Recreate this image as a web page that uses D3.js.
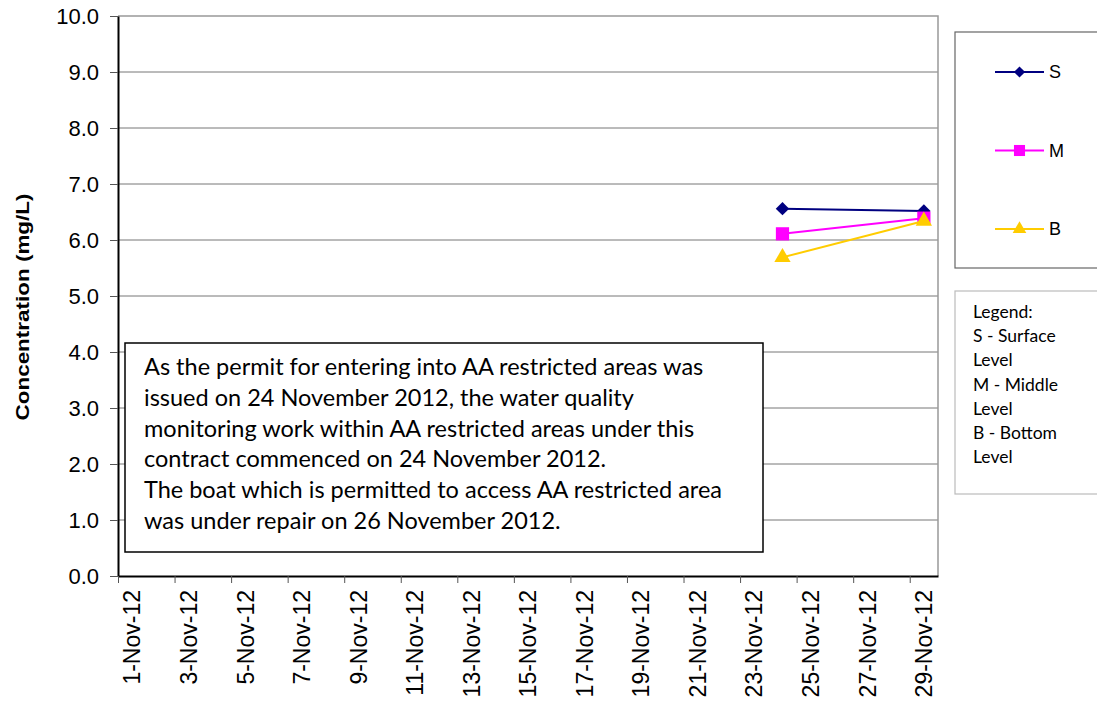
<!DOCTYPE html>
<html>
<head>
<meta charset="utf-8">
<script src="https://cdn.jsdelivr.net/npm/d3@7"></script>
<style>
  body { margin: 0; background: #fff; }
  svg { display: block; }
</style>
</head>
<body>
<svg id="chart"></svg>
<script>
// category axis: every day of Nov 2012
const days = d3.range(1, 30).map(d => d + "-Nov-12")
const tickDays = days.filter((d, i) => i % 2 === 0)

// sampled days and concentrations (mg/L)
const sampleDays = ["24-Nov-12", "29-Nov-12"]
const surface = [6.56, 6.52]
const middle = [6.11, 6.39]
const bottom = [5.69, 6.34]

const yTicks = d3.range(0, 11)

const noteLines = [
  "As the permit for entering into AA restricted areas was",
  "issued on 24 November 2012, the water quality",
  "monitoring work within AA restricted areas under this",
  "contract commenced on 24 November 2012.",
  "The boat which is permitted to access AA restricted area",
  "was under repair on 26 November 2012."
]
const legendNote = ["Legend:", "S - Surface", "Level", "M - Middle", "Level", "B - Bottom", "Level"]

let width = 1097
let height = 704
let plotLeft = 118, plotRight = 938, plotTop = 16, plotBottom = 576

let svg = d3.select("#chart").attr("width", width).attr("height", height)

let series = [
  {name: "S", values: surface, color: "#000080", symbol: d3.symbolDiamond2, size: 115},
  {name: "M", values: middle, color: "#ff00ff", symbol: d3.symbolSquare, size: 175},
  {name: "B", values: bottom, color: "#ffcc00", symbol: d3.symbolTriangle, size: 115}
]

let xBand = d3.scaleBand().domain(days).range([plotLeft, plotRight])
let xEdge = d3.scaleLinear().domain([0, days.length]).range([plotLeft, plotRight])
let y = d3.scaleLinear().domain([0, 10]).range([plotBottom, plotTop])

// gridlines
svg.append("g")
  .selectAll("line")
  .data(yTicks.filter(d => d > 0 && d < 10))
  .enter().append("line")
  .attr("x1", plotLeft).attr("x2", plotRight)
  .attr("y1", d => y(d)).attr("y2", d => y(d))
  .attr("stroke", "#777").attr("stroke-width", 1)

// plot border (top / right)
svg.append("path")
  .attr("d", `M${plotLeft},${y(10)}H${plotRight}V${plotBottom}`)
  .attr("fill", "none").attr("stroke", "#999").attr("stroke-width", 1.5)

// y axis
let yAxis = svg.append("g")
  .attr("transform", `translate(${plotLeft},0)`)
  .call(d3.axisLeft(y).tickValues(yTicks).tickFormat(d3.format(".1f"))
    .tickSize(8).tickSizeOuter(0).tickPadding(11))
yAxis.select(".domain").attr("stroke", "#000").attr("stroke-width", 2)
yAxis.selectAll(".tick line").attr("stroke", "#555")
yAxis.selectAll("text")
  .attr("font-family", "Arial, 'Liberation Sans', sans-serif")
  .attr("font-size", 22).attr("fill", "#000")

// x axis tick marks on category edges
let xTickAxis = svg.append("g")
  .attr("transform", `translate(0,${plotBottom})`)
  .call(d3.axisBottom(xEdge).tickValues(d3.range(0, days.length, 2))
    .tickSize(7).tickSizeOuter(0).tickFormat(""))
xTickAxis.select(".domain").attr("stroke", "#000").attr("stroke-width", 2)
xTickAxis.selectAll(".tick line").attr("stroke", "#555")

// x axis labels at category centres
let xLabels = svg.append("g")
  .attr("transform", `translate(0,${plotBottom})`)
  .call(d3.axisBottom(xBand).tickValues(tickDays).tickSize(0))
xLabels.select(".domain").remove()
xLabels.selectAll("text")
  .attr("transform", "rotate(-90)")
  .attr("text-anchor", "end")
  .attr("x", -14).attr("y", 0).attr("dy", "0.36em")
  .attr("font-family", "Arial, 'Liberation Sans', sans-serif")
  .attr("font-size", 23).attr("fill", "#000")

// y title
svg.append("text")
  .attr("transform", "translate(22,307) rotate(-90)")
  .attr("text-anchor", "middle").attr("dy", "0.35em")
  .attr("font-family", "Arial, 'Liberation Sans', sans-serif")
  .attr("font-weight", "bold").attr("font-size", 19)
  .attr("textLength", 227).attr("lengthAdjust", "spacingAndGlyphs")
  .text("Concentration (mg/L)")

// note box
let note = svg.append("g")
note.append("rect")
  .attr("x", 125).attr("y", 343).attr("width", 638).attr("height", 209)
  .attr("fill", "#fff").attr("stroke", "#000").attr("stroke-width", 1.5)
let noteText = note.selectAll("text")
  .data(noteLines).enter().append("text")
  .attr("x", 144).attr("y", (d, i) => 375 + i * 30.8)
  .attr("font-family", "Lato, 'Open Sans', sans-serif")
  .attr("font-size", 20).attr("fill", "#000")
  .text(d => d)
let maxW = d3.max(noteText.nodes(), n => n.getComputedTextLength())
noteText.attr("font-size", 20 * 578 / maxW)

// series lines and markers
let line = d3.line().x(d => xBand(d.day) + xBand.bandwidth() / 2).y(d => y(d.v))
series.forEach(s => {
  let pts = sampleDays.map((day, i) => ({day: day, v: s.values[i]}))
  svg.append("path")
    .datum(pts)
    .attr("d", line)
    .attr("fill", "none").attr("stroke", s.color).attr("stroke-width", 2)
  svg.append("g").selectAll("path")
    .data(pts).enter().append("path")
    .attr("transform", d => `translate(${xBand(d.day) + xBand.bandwidth() / 2},${y(d.v)})`)
    .attr("d", d3.symbol().type(s.symbol).size(s.size))
    .attr("fill", s.color)
})

// series legend
let legend = svg.append("g")
legend.append("rect")
  .attr("x", 955).attr("y", 32).attr("width", 160).attr("height", 236)
  .attr("fill", "#fff").attr("stroke", "#666").attr("stroke-width", 1.2)
series.forEach((s, i) => {
  let ly = 72 + i * 78.5
  legend.append("line")
    .attr("x1", 995).attr("x2", 1044).attr("y1", ly).attr("y2", ly)
    .attr("stroke", s.color).attr("stroke-width", 2)
  legend.append("path")
    .attr("transform", `translate(1019.5,${ly})`)
    .attr("d", d3.symbol().type(s.symbol).size(s.size * 0.7))
    .attr("fill", s.color)
  legend.append("text")
    .attr("x", 1049).attr("y", ly).attr("dy", "0.36em")
    .attr("font-family", "Arial, 'Liberation Sans', sans-serif")
    .attr("font-size", 18).attr("fill", "#000")
    .text(s.name)
})

// text legend
let legend2 = svg.append("g")
legend2.append("rect")
  .attr("x", 955).attr("y", 291).attr("width", 160).attr("height", 203)
  .attr("fill", "#fff").attr("stroke", "#bbb").attr("stroke-width", 1.2)
legend2.selectAll("text")
  .data(legendNote).enter().append("text")
  .attr("x", 973).attr("y", (d, i) => 318 + i * 24.2)
  .attr("font-family", "Lato, 'Open Sans', sans-serif")
  .attr("font-size", 17.5).attr("fill", "#000")
  .text(d => d)
</script>
</body>
</html>
